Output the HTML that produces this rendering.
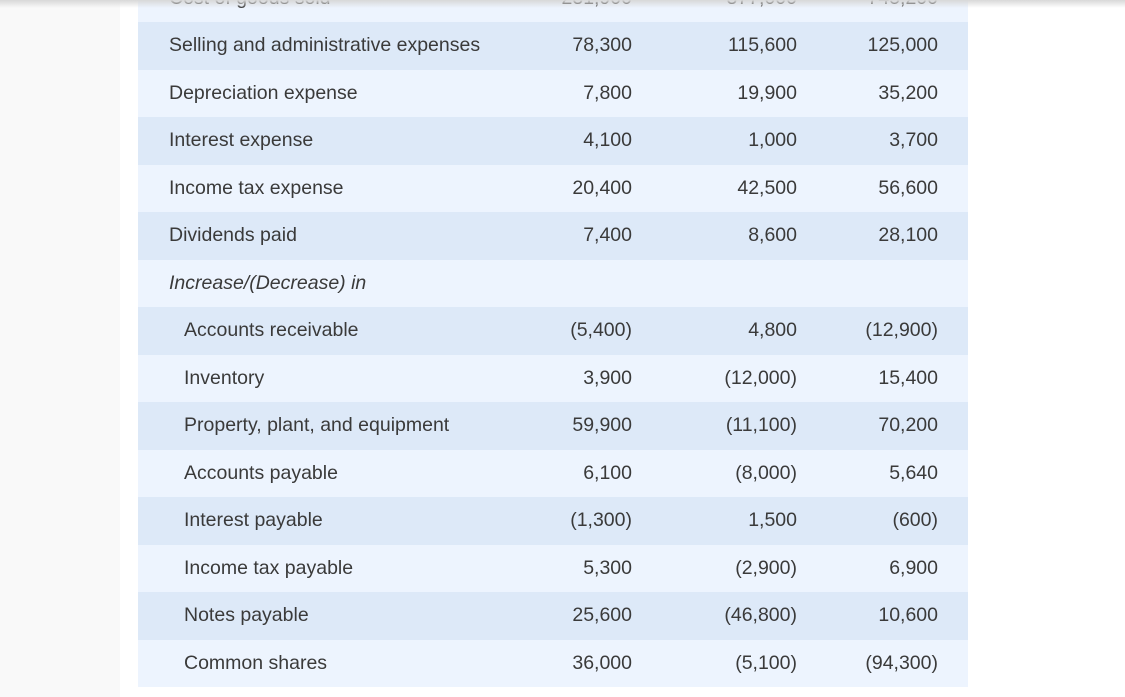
<!DOCTYPE html>
<html><head><meta charset="utf-8"><style>
body{margin:0;width:1125px;height:697px;overflow:hidden;background:#fff;font-family:"Liberation Sans",sans-serif;position:relative}
#side{position:absolute;left:0;top:0;width:120px;height:697px;background:#f9f9f9}
#shadow{position:absolute;left:0;top:0;width:1125px;height:8px;background:linear-gradient(#d8d8d8,rgba(255,255,255,0));z-index:2}
table{position:absolute;left:138px;top:-25.5px;width:830px;border-collapse:collapse;font-size:19.5px;color:#3a3a3a}
td{height:47.5px;padding:0;box-sizing:border-box;white-space:nowrap}
tr:nth-child(odd){background:#edf4fe}
tr:nth-child(even){background:#dde9f8}
td.l{padding-left:31px;width:370px}
td.i{padding-left:46px}
td.n{text-align:right}
td.c1{width:124px}td.c2{width:165px}td.c3{width:171px;padding-right:30px}
</style></head><body>
<div id="side"></div>
<div id="shadow"></div>
<table>
<tr><td class="l">Cost of goods sold</td><td class="n c1">231,900</td><td class="n c2">377,000</td><td class="n c3">745,200</td></tr>
<tr><td class="l">Selling and administrative expenses</td><td class="n c1">78,300</td><td class="n c2">115,600</td><td class="n c3">125,000</td></tr>
<tr><td class="l">Depreciation expense</td><td class="n c1">7,800</td><td class="n c2">19,900</td><td class="n c3">35,200</td></tr>
<tr><td class="l">Interest expense</td><td class="n c1">4,100</td><td class="n c2">1,000</td><td class="n c3">3,700</td></tr>
<tr><td class="l">Income tax expense</td><td class="n c1">20,400</td><td class="n c2">42,500</td><td class="n c3">56,600</td></tr>
<tr><td class="l">Dividends paid</td><td class="n c1">7,400</td><td class="n c2">8,600</td><td class="n c3">28,100</td></tr>
<tr><td class="l"><i>Increase/(Decrease) in</i></td><td></td><td></td><td></td></tr>
<tr><td class="l i">Accounts receivable</td><td class="n c1">(5,400)</td><td class="n c2">4,800</td><td class="n c3">(12,900)</td></tr>
<tr><td class="l i">Inventory</td><td class="n c1">3,900</td><td class="n c2">(12,000)</td><td class="n c3">15,400</td></tr>
<tr><td class="l i">Property, plant, and equipment</td><td class="n c1">59,900</td><td class="n c2">(11,100)</td><td class="n c3">70,200</td></tr>
<tr><td class="l i">Accounts payable</td><td class="n c1">6,100</td><td class="n c2">(8,000)</td><td class="n c3">5,640</td></tr>
<tr><td class="l i">Interest payable</td><td class="n c1">(1,300)</td><td class="n c2">1,500</td><td class="n c3">(600)</td></tr>
<tr><td class="l i">Income tax payable</td><td class="n c1">5,300</td><td class="n c2">(2,900)</td><td class="n c3">6,900</td></tr>
<tr><td class="l i">Notes payable</td><td class="n c1">25,600</td><td class="n c2">(46,800)</td><td class="n c3">10,600</td></tr>
<tr><td class="l i">Common shares</td><td class="n c1">36,000</td><td class="n c2">(5,100)</td><td class="n c3">(94,300)</td></tr>
</table>
</body></html>
